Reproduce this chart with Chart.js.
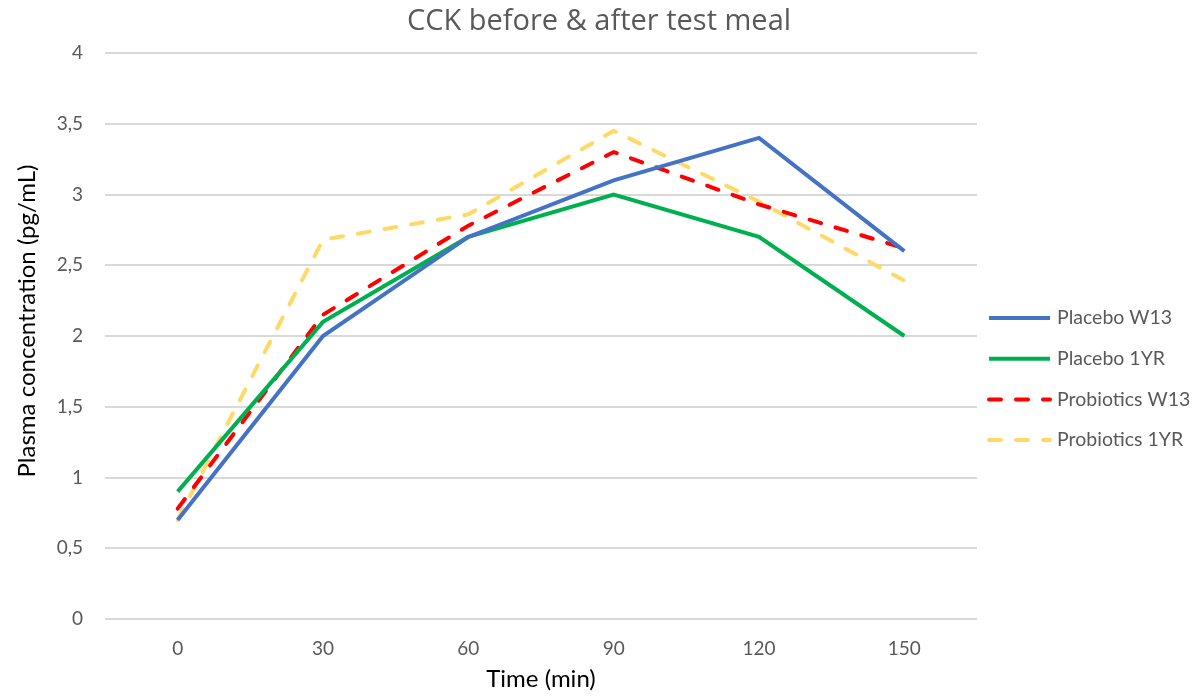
<!DOCTYPE html>
<html>
<head>
<meta charset="utf-8">
<script src="https://cdn.jsdelivr.net/npm/chart.js@4/dist/chart.umd.min.js"></script>
<style>
  html, body { margin: 0; padding: 0; background: #ffffff; }
  #wrap { width: 1204px; height: 697px; position: relative; }
</style>
</head>
<body>
<div id="wrap"><canvas id="c" width="1204" height="697"></canvas></div>
<script>
const chartTitle = "CCK before & after test meal";
const yAxisTitle = "Plasma concentration (pg/mL)";
const xAxisTitle = "Time (min)";
const timeLabels = ["0", "30", "60", "90", "120", "150"];
const seriesNames = ["Placebo W13", "Placebo 1YR", "Probiotics W13", "Probiotics 1YR"];
const placeboW13 = [0.70, 2.00, 2.70, 3.10, 3.40, 2.60];
const placebo1YR = [0.90, 2.10, 2.70, 3.00, 2.70, 2.00];
const probioticsW13 = [0.78, 2.15, 2.78, 3.30, 2.93, 2.62];
const probiotics1YR = [0.70, 2.68, 2.86, 3.45, 2.95, 2.39];
const yTicks = [0, 0.5, 1, 1.5, 2, 2.5, 3, 3.5, 4];

const FONT = "Lato, 'Open Sans', 'Liberation Sans', sans-serif";
const TFONT = "'Open Sans', Lato, sans-serif";
const GREY = "#595959";

const textPlugin = {
  id: 'textAndLegend',
  afterDraw(chart) {
    const ctx = chart.ctx;
    ctx.save();
    // title
    ctx.fillStyle = GREY;
    ctx.font = "29px " + TFONT;
    ctx.textAlign = 'center';
    ctx.textBaseline = 'middle';
    ctx.fillText(chartTitle, 599, 22);
    // y axis title
    ctx.save();
    ctx.translate(27, 321);
    ctx.rotate(-Math.PI / 2);
    ctx.fillStyle = '#000000';
    ctx.font = "24px " + FONT;
    ctx.textAlign = 'center';
    ctx.textBaseline = 'middle';
    ctx.fillText(yAxisTitle, 0, 0);
    ctx.restore();
    // legend
    chart.data.datasets.forEach((ds, i) => {
      const y = 318 + i * 40.7;
      ctx.beginPath();
      ctx.strokeStyle = ds.borderColor;
      ctx.lineWidth = ds.borderWidth;
      ctx.lineCap = ds.borderCapStyle || 'butt';
      ctx.setLineDash(ds.borderDash || []);
      ctx.moveTo(989, y);
      ctx.lineTo(1050, y);
      ctx.stroke();
      ctx.setLineDash([]);
      ctx.fillStyle = GREY;
      ctx.font = "19.5px " + FONT;
      ctx.textBaseline = 'middle';
      ctx.textAlign = 'left';
      ctx.fillText(ds.label, 1057, y);
    });
    ctx.restore();
  }
};

const bgPlugin = {
  id: 'bg',
  beforeDraw(chart) {
    const ctx = chart.ctx;
    ctx.save();
    ctx.fillStyle = '#ffffff';
    ctx.fillRect(0, 0, chart.width, chart.height);
    ctx.restore();
  }
};

function mk(label, data, color, dash) {
  return {
    label: label,
    data: data,
    borderColor: color,
    backgroundColor: color,
    borderWidth: 4,
    borderDash: dash,
    borderCapStyle: dash.length ? 'round' : 'butt',
    pointRadius: 0,
    pointHoverRadius: 0,
    tension: 0,
    fill: false
  };
}

new Chart(document.getElementById('c'), {
  type: 'line',
  data: {
    labels: timeLabels,
    datasets: [
      mk(seriesNames[0], placeboW13, '#4472C4', []),
      mk(seriesNames[1], placebo1YR, '#00B050', []),
      mk(seriesNames[2], probioticsW13, '#FF0000', [12, 15]),
      mk(seriesNames[3], probiotics1YR, '#FFD966', [12, 15])
    ]
  },
  options: {
    responsive: false,
    animation: false,
    devicePixelRatio: 1,
    layout: { padding: { left: 0, right: 227, top: 53, bottom: 0 } },
    plugins: {
      legend: { display: false },
      tooltip: { enabled: false },
      title: { display: false }
    },
    scales: {
      x: {
        offset: true,
        grid: { display: false, drawTicks: false },
        border: { display: false },
        ticks: { color: GREY, font: { family: FONT, size: 19 }, padding: 18 },
        title: {
          display: true,
          text: xAxisTitle,
          color: '#000000',
          font: { family: FONT, size: 24 },
          padding: { top: 0, bottom: 3 }
        },
        afterFit(scale) { scale.height = 78; }
      },
      y: {
        min: 0,
        max: 4,
        afterBuildTicks(scale) { scale.ticks = yTicks.map(v => ({ value: v })); },
        grid: { color: '#d9d9d9', lineWidth: 2, drawTicks: false },
        border: { display: false },
        ticks: {
          color: GREY,
          font: { family: FONT, size: 19 },
          padding: 22,
          callback: (v) => String(v).replace('.', ',')
        },
        title: { display: false },
        afterFit(scale) { scale.width = 105; }
      }
    }
  },
  plugins: [bgPlugin, textPlugin]
});
</script>
</body>
</html>
